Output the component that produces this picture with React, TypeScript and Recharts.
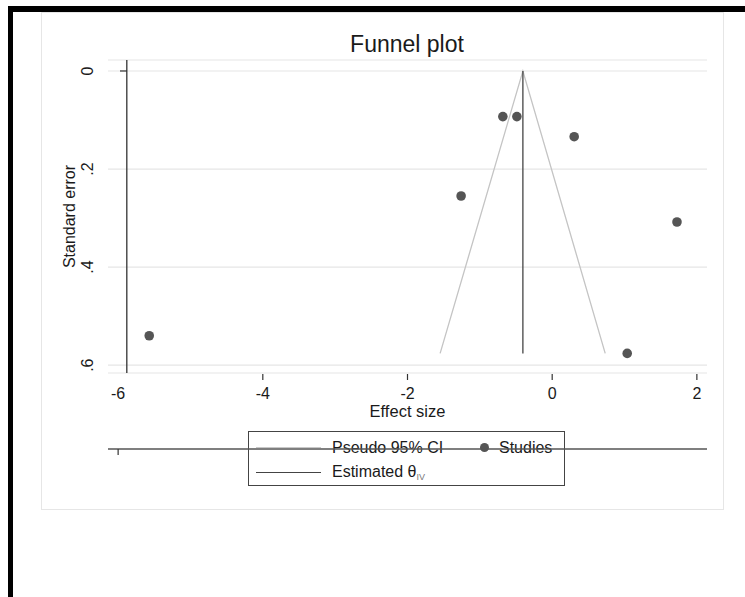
import React from "react";
import { ComposedChart, Scatter, Line, XAxis, YAxis, CartesianGrid, ReferenceLine } from "recharts";

// study estimates
const studyEffect = [-0.682, -0.488, 0.304, -1.259, 1.725, 1.037, -5.57];
const studySE = [0.093, 0.093, 0.134, 0.255, 0.308, 0.576, 0.54];

// pseudo 95% CI funnel (left base, apex, right base)
const funnelEffect = [-1.549, -0.405, 0.733];
const funnelSE = [0.576, 0, 0.576];

// pooled IV estimate line
const thetaEffect = [-0.405, -0.405];
const thetaSE = [0, 0.576];

const xTicks = [-6, -4, -2, 0, 2];
const yTicks = [0, 0.2, 0.4, 0.6];
const yTickLabels = ["0", ".2", ".4", ".6"];

const studies = studyEffect.map((es, i) => ({ es, se: studySE[i] }));
const funnel = funnelEffect.map((es, i) => ({ es, se: funnelSE[i] }));
const theta = thetaEffect.map((es, i) => ({ es, se: thetaSE[i] }));

const FONT = "'Liberation Sans', Arial, Helvetica, sans-serif";
const TEXT = "#1a1a1a";

const XTick = ({ x, y, payload }: any) => (
  <g>
    {payload.value !== -6 && <line x1={x} x2={x} y1={y + 1} y2={y + 7} stroke="#333" strokeWidth={1.2} />}
    <text x={x} y={y + 26} textAnchor="middle" fontSize={16} fontFamily={FONT} fill={TEXT}>
      {payload.value}
    </text>
  </g>
);

// the stray second axis only shows a short tick mark
const StrayTick = ({ x, y }: any) => <line x1={x} x2={x} y1={y} y2={y + 6} stroke="#333" strokeWidth={1.2} />;

const YTick = ({ x, y, payload }: any) => {
  const idx = yTicks.indexOf(payload.value);
  return (
    <g>
      {payload.value === 0 && <line x1={x + 12} x2={x + 19} y1={y} y2={y} stroke="#333" strokeWidth={1.2} />}
      <text
        x={x - 15}
        y={y}
        transform={`rotate(-90 ${x - 15} ${y})`}
        textAnchor="middle"
        fontSize={16}
        fontFamily={FONT}
        fill={TEXT}
      >
        {yTickLabels[idx]}
      </text>
    </g>
  );
};

const YLabel = ({ viewBox }: any) => {
  const cx = viewBox.x + 27;
  const cy = viewBox.y + viewBox.height / 2;
  return (
    <text
      x={cx}
      y={cy}
      transform={`rotate(-90 ${cx} ${cy})`}
      textAnchor="middle"
      fontSize={16}
      fontFamily={FONT}
      fill={TEXT}
    >
      Standard error
    </text>
  );
};

const Dot = ({ cx, cy }: any) => <circle cx={cx} cy={cy} r={4.8} fill="#555" />;

export default function App() {
  return (
    <div style={{ position: "absolute", left: 0, top: 0, width: 745, height: 597, background: "#fff", overflow: "hidden" }}>
      <div
        style={{
          position: "absolute",
          left: 8,
          top: 6,
          width: 737,
          height: 591,
          borderTop: "6px solid #000",
          borderLeft: "5px solid #000",
          boxSizing: "border-box",
        }}
      />
      <div
        style={{
          position: "absolute",
          left: 41,
          top: 12,
          width: 683,
          height: 498,
          border: "1px solid #e6e6e6",
          boxSizing: "border-box",
        }}
      />
      <div
        style={{
          position: "absolute",
          left: 207,
          width: 400,
          top: 32,
          textAlign: "center",
          fontFamily: FONT,
          fontSize: 23,
          lineHeight: "24px",
          color: TEXT,
        }}
      >
        Funnel plot
      </div>

      {/* legend sits behind the chart so the stray axis line crosses it */}
      <div
        style={{
          position: "absolute",
          left: 248,
          top: 431,
          width: 317,
          height: 55,
          border: "1.3px solid #444",
          boxSizing: "border-box",
          fontFamily: FONT,
          fontSize: 16,
          color: TEXT,
        }}
      >
        <div style={{ position: "absolute", left: 7, top: 15, width: 65, height: 0, borderTop: "1.3px solid #c8c8c8" }} />
        <div style={{ position: "absolute", left: 83, top: 7, lineHeight: "18px" }}>Pseudo 95% CI</div>
        <div style={{ position: "absolute", left: 231, top: 11, width: 9, height: 9, borderRadius: "50%", background: "#555" }} />
        <div style={{ position: "absolute", left: 250, top: 7, lineHeight: "18px" }}>Studies</div>
        <div style={{ position: "absolute", left: 7, top: 40, width: 65, height: 0, borderTop: "1.3px solid #444" }} />
        <div style={{ position: "absolute", left: 83, top: 31, lineHeight: "18px" }}>
          Estimated θ<sub style={{ fontSize: 9, color: "#777", verticalAlign: "-3px" }}>IV</sub>
        </div>
      </div>

      <div style={{ position: "absolute", left: 0, top: 0, zIndex: 2 }}>
        <ComposedChart width={745} height={597} margin={{ top: 60, right: 38, left: 48, bottom: 128 }}>
          <CartesianGrid horizontal vertical={false} stroke="#e6e6e6" strokeWidth={1.2} />
          <XAxis
            type="number"
            dataKey="es"
            domain={[-6.14, 2.14]}
            ticks={xTicks}
            allowDataOverflow
            axisLine={false}
            tickLine={false}
            tickSize={0}
            tickMargin={0}
            height={76}
            tick={<XTick />}
            label={{ value: "Effect size", position: "insideTop", offset: 32, fontSize: 16.5, fontFamily: FONT, fill: TEXT }}
          />
          <XAxis
            xAxisId="b"
            type="number"
            dataKey="es"
            domain={[-6.14, 2.14]}
            ticks={[-6]}
            allowDataOverflow
            axisLine={{ stroke: "#555", strokeWidth: 1.4 }}
            tickLine={false}
            tickSize={0}
            tickMargin={0}
            tick={<StrayTick />}
            height={20}
          />
          <YAxis
            type="number"
            dataKey="se"
            reversed
            domain={[-0.0224, 0.616]}
            ticks={yTicks}
            allowDataOverflow
            axisLine={false}
            tickLine={false}
            tickSize={0}
            tickMargin={0}
            width={60}
            tick={<YTick />}
            label={<YLabel />}
          />
          <ReferenceLine x={-5.88} stroke="#333" strokeWidth={1.3} />
          <Line
            xAxisId="b"
            data={funnel}
            dataKey="se"
            type="linear"
            stroke="#c4c4c4"
            strokeWidth={1.3}
            dot={false}
            activeDot={false}
            isAnimationActive={false}
          />
          <Line
            xAxisId="b"
            data={theta}
            dataKey="se"
            type="linear"
            stroke="#444"
            strokeWidth={1.3}
            dot={false}
            activeDot={false}
            isAnimationActive={false}
          />
          <Scatter data={studies} dataKey="se" fill="#555" shape={<Dot />} isAnimationActive={false} />
        </ComposedChart>
      </div>
    </div>
  );
}
